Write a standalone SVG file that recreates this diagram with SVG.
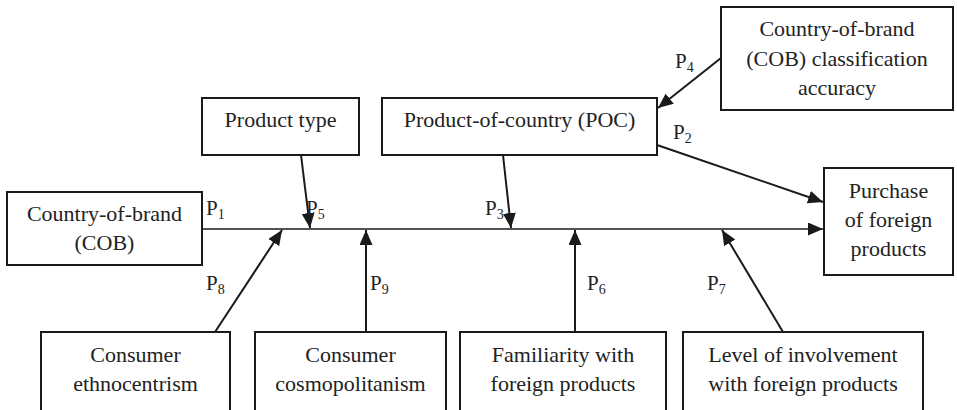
<svg xmlns="http://www.w3.org/2000/svg" width="957" height="410" viewBox="0 0 957 410">
<defs>
<style>
.box{fill:#fff;stroke:#1a1a1a;stroke-width:2}
.t{font-family:'Liberation Serif','Times New Roman',Tinos,'DejaVu Serif',serif;font-size:22px;fill:#222;text-anchor:middle}
.p{font-family:'Liberation Serif','Times New Roman',Tinos,'DejaVu Serif',serif;font-size:21px;fill:#222}
.s{font-size:14px}
.ln{stroke:#1a1a1a;stroke-width:2;fill:none;marker-end:url(#ah)}
</style>
<marker id="ah" markerUnits="userSpaceOnUse" markerWidth="16" markerHeight="14" refX="15" refY="6.5" orient="auto">
<path d="M0,0 L15,6.5 L0,13 z" fill="#1a1a1a"/>
</marker>
</defs>
<rect width="957" height="410" fill="#fff"/>
<g id="connectors">
<line class="ln" x1="202" y1="229" x2="823" y2="229" style="stroke-width:1.6"/>
<line class="ln" x1="301" y1="155" x2="310" y2="228"/>
<line class="ln" x1="503" y1="155" x2="511" y2="228"/>
<line class="ln" x1="657" y1="145" x2="823" y2="202"/>
<line class="ln" x1="721" y1="58" x2="658" y2="108"/>
<line class="ln" x1="215" y1="332" x2="282" y2="230"/>
<line class="ln" x1="366" y1="332" x2="366" y2="230"/>
<line class="ln" x1="575" y1="332" x2="575" y2="230"/>
<line class="ln" x1="783" y1="332" x2="722" y2="230"/>
</g>
<g id="labels">
<text class="p" x="206" y="215">P<tspan class="s" dy="4">1</tspan></text>
<text class="p" x="306" y="215">P<tspan class="s" dy="4">5</tspan></text>
<text class="p" x="485" y="215">P<tspan class="s" dy="4">3</tspan></text>
<text class="p" x="673" y="139">P<tspan class="s" dy="4">2</tspan></text>
<text class="p" x="675" y="68">P<tspan class="s" dy="4">4</tspan></text>
<text class="p" x="206" y="290">P<tspan class="s" dy="4">8</tspan></text>
<text class="p" x="370" y="290">P<tspan class="s" dy="4">9</tspan></text>
<text class="p" x="587" y="290">P<tspan class="s" dy="4">6</tspan></text>
<text class="p" x="707" y="290">P<tspan class="s" dy="4">7</tspan></text>
</g>
<g id="cob">
<rect class="box" x="7" y="192" width="195" height="73"/>
<text class="t" x="104.5" y="221">Country-of-brand</text>
<text class="t" x="104.5" y="250">(COB)</text>
</g>
<g id="product-type">
<rect class="box" x="202" y="98" width="157" height="57"/>
<text class="t" x="280.5" y="127">Product type</text>
</g>
<g id="poc">
<rect class="box" x="382" y="98" width="275" height="57"/>
<text class="t" x="519.5" y="127">Product-of-country (POC)</text>
</g>
<g id="cob-accuracy">
<rect class="box" x="721" y="7" width="232" height="103"/>
<text class="t" x="837" y="36">Country-of-brand</text>
<text class="t" x="837" y="66">(COB) classification</text>
<text class="t" x="837" y="95">accuracy</text>
</g>
<g id="purchase">
<rect class="box" x="824" y="168" width="129" height="107"/>
<text class="t" x="888.5" y="198">Purchase</text>
<text class="t" x="888.5" y="227">of foreign</text>
<text class="t" x="888.5" y="256">products</text>
</g>
<g id="ethnocentrism">
<rect class="box" x="41" y="332" width="189" height="84"/>
<text class="t" x="135.5" y="362">Consumer</text>
<text class="t" x="135.5" y="391">ethnocentrism</text>
</g>
<g id="cosmopolitanism">
<rect class="box" x="255" y="332" width="191" height="84"/>
<text class="t" x="350.5" y="362">Consumer</text>
<text class="t" x="350.5" y="391">cosmopolitanism</text>
</g>
<g id="familiarity">
<rect class="box" x="460" y="332" width="206" height="84"/>
<text class="t" x="563" y="362">Familiarity with</text>
<text class="t" x="563" y="391">foreign products</text>
</g>
<g id="involvement">
<rect class="box" x="683" y="332" width="240" height="84"/>
<text class="t" x="803" y="362">Level of involvement</text>
<text class="t" x="803" y="391">with foreign products</text>
</g>
</svg>
